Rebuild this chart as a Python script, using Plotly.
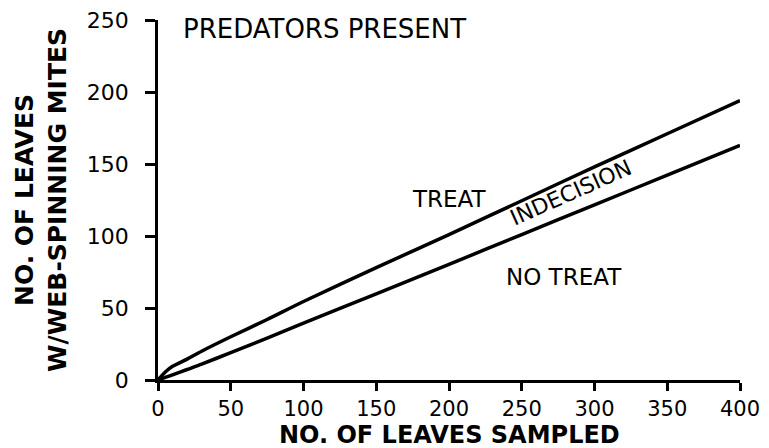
import plotly.graph_objects as go

# Data
leaves_sampled = [0, 5, 10, 20, 30, 50, 75, 100, 150, 200, 250, 300, 350, 400]
treat_threshold = [0, 5.5, 9.5, 14.5, 20, 30, 42, 54.5, 78, 101, 124.5, 148, 171, 194]
no_treat_threshold = [0, 1.8, 3.6, 7.3, 11, 19, 29, 39.5, 59.8, 80.3, 101, 121.6, 142.3, 163]

x_ticks = [0, 50, 100, 150, 200, 250, 300, 350, 400]
y_ticks = [0, 50, 100, 150, 200, 250]

FONT = "DejaVu Sans"

fig = go.Figure()
for ys in (treat_threshold, no_treat_threshold):
    fig.add_trace(go.Scatter(
        x=leaves_sampled, y=ys, mode="lines",
        line=dict(color="black", width=3.5, shape="spline", smoothing=0.6),
        showlegend=False, hoverinfo="skip"))

axis_common = dict(
    showgrid=False, zeroline=False, showline=True, linecolor="black",
    linewidth=2.5, ticks="outside", tickwidth=2.5,
    tickcolor="black",
    ticklabeloverflow="allow", automargin=False,
)
fig.update_xaxes(range=[0, 400], tickvals=x_ticks, ticklabelstandoff=0,
                 ticklen=8, tickfont=dict(family=FONT, size=21, color="black"),
                 **axis_common)
fig.update_yaxes(range=[0, 250], tickvals=y_ticks, ticklabelstandoff=12,
                 ticklen=10, tickfont=dict(family=FONT, size=22, color="black"),
                 title=dict(text="<b>NO. OF LEAVES<br>W/WEB-SPINNING MITES</b>",
                            font=dict(family=FONT, size=25, color="black"),
                            standoff=14),
                 **axis_common)

# x-axis title placed explicitly below the tick labels
fig.add_annotation(x=0.5, y=-0.152, xref="paper", yref="paper",
                   text="<b>NO. OF LEAVES SAMPLED</b>", showarrow=False,
                   xanchor="center", yanchor="middle",
                   font=dict(family=FONT, size=24, color="black"))

ann_font = dict(family=FONT, size=23, color="black")
fig.add_annotation(x=0.04, y=0.975, xref="paper", yref="paper",
                   text="PREDATORS PRESENT", showarrow=False,
                   xanchor="left", yanchor="middle",
                   font=dict(family=FONT, size=26, color="black"))
fig.add_annotation(x=200, y=126, text="TREAT", showarrow=False, font=ann_font)
fig.add_annotation(x=279, y=71.5, text="NO TREAT", showarrow=False, font=ann_font)
fig.add_annotation(x=284, y=130, text="INDECISION", showarrow=False,
                   textangle=-24, font=dict(family=FONT, size=22, color="black"))

fig.update_layout(
    width=761, height=440,
    margin=dict(l=150, r=29, t=12, b=68, autoexpand=False),
    paper_bgcolor="white", plot_bgcolor="white",
)
fig.write_html("out.html")
